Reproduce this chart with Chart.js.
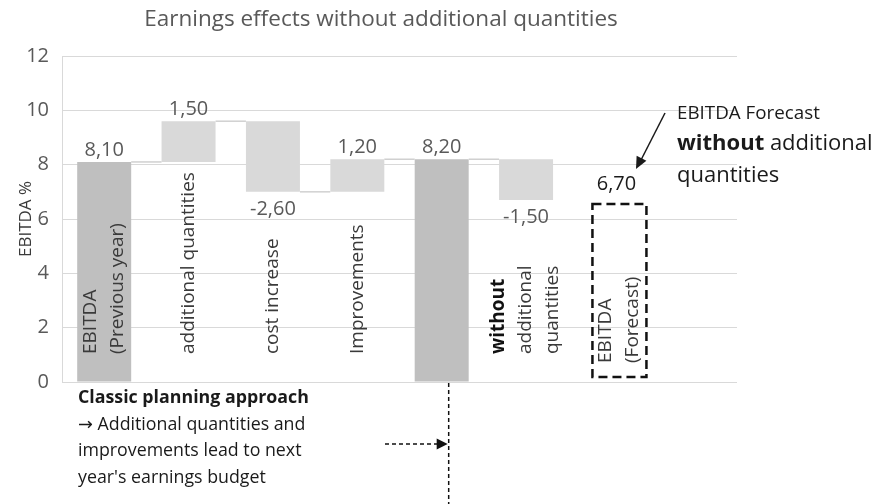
<!DOCTYPE html>
<html>
<head>
<meta charset="utf-8">
<script src="https://cdn.jsdelivr.net/npm/chart.js@4/dist/chart.umd.min.js"></script>
<style>
  html, body { margin: 0; padding: 0; background: #ffffff; }
  #wrap { width: 877px; height: 504px; }
</style>
</head>
<body>
<div id="wrap"><canvas id="c" width="877" height="504"></canvas></div>
<script>
// Waterfall steps of the EBITDA bridge (values in % points)
const categories = [
  ['EBITDA', '(Previous year)'],
  ['additional quantities'],
  ['cost increase'],
  ['Improvements'],
  [],
  ['without', 'additional', 'quantities'],
  ['EBITDA', '(Forecast)'],
  []
];
const stepValues = [8.10, 1.50, -2.60, 1.20, 8.20, -1.50, 6.70, null];
const stepKinds  = ['total', 'change', 'change', 'change', 'total', 'change', 'forecast', 'none'];
const boldWords  = ['without'];
const yTicks     = [0, 2, 4, 6, 8, 10, 12];

const chartTitle = 'Earnings effects without additional quantities';
const yTitle = 'EBITDA %';
const noteLines = [
  [{ t: 'EBITDA Forecast', b: false }],
  [{ t: 'without', b: true }, { t: ' additional', b: false }],
  [{ t: 'quantities', b: false }]
];
const footLines = [
  [{ t: 'Classic planning approach', b: true }],
  [{ t: '\u2192 Additional quantities and', b: false }],
  [{ t: 'improvements lead to next', b: false }],
  [{ t: "year's earnings budget", b: false }]
];

const FONT = "'Open Sans', 'DejaVu Sans', sans-serif";
const fmt = v => v.toFixed(2).replace('.', ',');

// floating [from, to] ranges built from the running level
const ranges = [];
let level = 0;
stepValues.forEach((v, i) => {
  const k = stepKinds[i];
  if (v === null) { ranges.push(null); return; }
  if (k === 'total') { ranges.push([0, v]); level = v; }
  else if (k === 'forecast') { ranges.push([0, v]); }
  else { ranges.push([level, level + v]); level += v; }
});
const barColors = stepKinds.map(k => k === 'total' ? '#bfbfbf' : (k === 'change' ? '#d9d9d9' : 'rgba(0,0,0,0)'));

function font(size, bold) { return (bold ? 'bold ' : '') + size + 'px ' + FONT; }

function drawRuns(ctx, runs, x, y, size, color) {
  let cx = x;
  runs.forEach(r => {
    ctx.font = font(size, r.b);
    ctx.fillStyle = color;
    ctx.fillText(r.t, cx, y);
    cx += ctx.measureText(r.t).width;
  });
}

function arrowHead(ctx, x1, y1, x2, y2, len, half) {
  const a = Math.atan2(y2 - y1, x2 - x1);
  ctx.beginPath();
  ctx.moveTo(x2, y2);
  ctx.lineTo(x2 - len * Math.cos(a) + half * Math.sin(a), y2 - len * Math.sin(a) - half * Math.cos(a));
  ctx.lineTo(x2 - len * Math.cos(a) - half * Math.sin(a), y2 - len * Math.sin(a) + half * Math.cos(a));
  ctx.closePath();
  ctx.fill();
}

const waterfallDecor = {
  id: 'waterfallDecor',
  afterDatasetsDraw(chart) {
    const ctx = chart.ctx;
    const ys = chart.scales.y;
    const area = chart.chartArea;
    const bars = chart.getDatasetMeta(0).data;
    ctx.save();

    // connectors between consecutive steps
    ctx.strokeStyle = '#d0d0d0';
    ctx.lineWidth = 1.5;
    for (let i = 0; i < 5; i++) {
      const a = bars[i], b = bars[i + 1];
      const lvl = ranges[i][1];
      const yy = ys.getPixelForValue(lvl);
      ctx.beginPath();
      ctx.moveTo(a.x + a.width / 2, yy);
      ctx.lineTo(b.x - b.width / 2, yy);
      ctx.stroke();
    }

    // value labels
    ctx.textAlign = 'center';
    ctx.textBaseline = 'middle';
    stepValues.forEach((v, i) => {
      if (v === null) return;
      const k = stepKinds[i];
      const r = ranges[i];
      const bar = bars[i];
      ctx.font = font(20, false);
      if (k === 'forecast') {
        ctx.fillStyle = '#1a1a1a';
        ctx.fillText(fmt(v), bar.x + 6, ys.getPixelForValue(r[1]) - 16);
      } else if (v >= 0) {
        ctx.fillStyle = '#595959';
        ctx.fillText(fmt(v), bar.x, ys.getPixelForValue(Math.max(r[0], r[1])) - 12);
      } else {
        ctx.fillStyle = '#595959';
        ctx.fillText(fmt(v), bar.x, ys.getPixelForValue(Math.min(r[0], r[1])) + 17);
      }
    });

    // dashed frame of the forecast value
    const fi = stepKinds.indexOf('forecast');
    const fb = bars[fi];
    const fx = fb.x + 9;
    ctx.setLineDash([9, 5]);
    ctx.lineWidth = 2.5;
    ctx.strokeStyle = '#111111';
    const fTop = ys.getPixelForValue(ranges[fi][1]) + 4;
    const fBot = ys.getPixelForValue(0) - 5;
    ctx.strokeRect(fx - fb.width / 2, fTop, fb.width, fBot - fTop);
    ctx.setLineDash([]);

    // rotated category labels
    categories.forEach((lines, i) => {
      if (!lines.length) return;
      const isForecast = stepKinds[i] === 'forecast';
      const cx = isForecast ? fx : bars[i].x;
      const yStart = isForecast ? 363 : 354;
      const gap = 27;
      lines.forEach((ln, j) => {
        const off = (j - (lines.length - 1) / 2) * gap;
        const bold = boldWords.includes(ln);
        ctx.save();
        ctx.translate(cx + off, yStart);
        ctx.rotate(-Math.PI / 2);
        ctx.font = font(19, bold);
        ctx.fillStyle = bold ? '#111111' : '#3a3a3a';
        ctx.textAlign = 'left';
        ctx.textBaseline = 'middle';
        ctx.fillText(ln, 0, 0);
        ctx.restore();
      });
    });

    // title
    ctx.textAlign = 'center';
    ctx.textBaseline = 'middle';
    ctx.font = font(22.5, false);
    ctx.fillStyle = '#595959';
    ctx.fillText(chartTitle, 381, 20);

    // forecast note and arrow
    ctx.textAlign = 'left';
    drawRuns(ctx, noteLines[0], 677, 114, 18.8, '#1a1a1a');
    drawRuns(ctx, noteLines[1], 677, 144, 22, '#1a1a1a');
    drawRuns(ctx, noteLines[2], 677, 176, 22, '#1a1a1a');
    ctx.strokeStyle = '#1a1a1a';
    ctx.fillStyle = '#1a1a1a';
    ctx.lineWidth = 1.5;
    ctx.beginPath();
    ctx.moveTo(665, 113);
    ctx.lineTo(641, 160);
    ctx.stroke();
    arrowHead(ctx, 665, 113, 636, 169, 12, 5.5);

    // planning approach note
    footLines.forEach((runs, i) => {
      drawRuns(ctx, runs, 78, 398 + i * 26.5, 17.8, '#1a1a1a');
    });

    // dashed guides below the second total
    const gx = bars[4].x + 7;
    ctx.setLineDash([4, 3]);
    ctx.lineWidth = 1.5;
    ctx.strokeStyle = '#111111';
    ctx.beginPath();
    ctx.moveTo(gx, area.bottom + 1);
    ctx.lineTo(gx, 504);
    ctx.stroke();
    ctx.beginPath();
    ctx.moveTo(385, 444);
    ctx.lineTo(438, 444);
    ctx.stroke();
    ctx.setLineDash([]);
    ctx.fillStyle = '#111111';
    arrowHead(ctx, 385, 444, gx - 1, 444, 11, 5.5);

    ctx.restore();
  }
};

new Chart(document.getElementById('c'), {
  type: 'bar',
  data: {
    labels: categories.map(c => c.join(' ')),
    datasets: [{
      data: ranges,
      backgroundColor: barColors,
      borderWidth: 0,
      categoryPercentage: 1,
      barPercentage: 0.64
    }]
  },
  options: {
    responsive: false,
    animation: false,
    devicePixelRatio: 1,
    layout: { padding: { top: 56, right: 140, bottom: 122, left: 0 } },
    plugins: { legend: { display: false }, tooltip: { enabled: false }, title: { display: false } },
    scales: {
      x: { display: false },
      y: {
        min: 0,
        max: 12,
        afterBuildTicks: s => { s.ticks = yTicks.map(v => ({ value: v })); },
        afterFit: s => { s.width = 62; },
        grid: { color: '#d9d9d9', lineWidth: 1, drawTicks: false },
        border: { display: true, color: '#d9d9d9' },
        ticks: { padding: 13, color: '#595959', font: { family: FONT, size: 20 } },
        title: { display: true, text: yTitle, color: '#3a3a3a', font: { family: FONT, size: 17 }, padding: { top: 16, bottom: 0 } }
      }
    }
  },
  plugins: [waterfallDecor]
});
</script>
</body>
</html>
